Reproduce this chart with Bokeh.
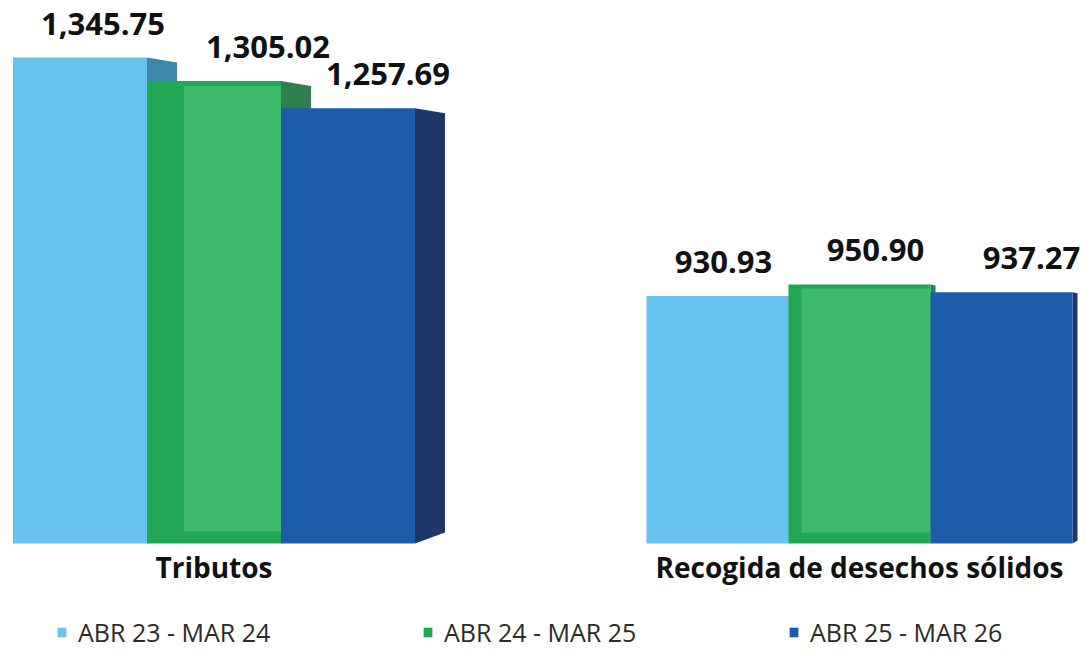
from bokeh.plotting import figure
from bokeh.models import Range1d, Legend, LegendItem, ColumnDataSource
from bokeh.core.properties import value
from bokeh.embed import file_html
from bokeh.resources import INLINE

# ---------------- data ----------------
categories = ["Tributos", "Recogida de desechos sólidos"]
series_names = ["ABR 23 - MAR 24", "ABR 24 - MAR 25", "ABR 25 - MAR 26"]
values_abr23_mar24 = [1345.75, 930.93]
values_abr24_mar25 = [1305.02, 950.90]
values_abr25_mar26 = [1257.69, 937.27]
series_values = [values_abr23_mar24, values_abr24_mar25, values_abr25_mar26]

# ---------------- styles / layout ----------------
front_colors = ["#68c4ef", "#3dba6b", "#1d5ca8"]
side_colors = ["#3f86ab", "#2e7f4f", "#1e3668"]
green_outer = "#22a854"
FONT = "Open Sans"

W, H = 1086, 649
BASE = 500.0          # value at which the bars start (truncated base as in original)
K = 0.5746            # px per value unit
BASE_PX = 543         # px from top of the figure to the bars' base
U = 140.0             # px per x unit

group_center = [1.0, 1.0 + (859 - 213.5) / U]
group_scale = [134 / U, 142 / U]
depth_px = [30, 5]
top_drop_px = [5, 1]
bot_rise_px = [11, 3]
# horizontal label offsets (px) per series, per group
label_dx_px = [[23, 6], [54, 16], [40, 30]]
label_gap_px = 34
bevel_left_px = [37, 13]
bevel_bottom_px = [12, 11]
bevel_top_px = [5, 4]

y_start = BASE - (H - BASE_PX) / K
y_end = BASE + BASE_PX / K
x_start = group_center[0] - 213.5 / U
x_end = x_start + W / U

p = figure(width=W, height=H, output_backend="svg", toolbar_location=None,
           x_range=Range1d(x_start, x_end), y_range=Range1d(y_start, y_end),
           x_axis_location=None, y_axis_location=None, min_border=0,
           background_fill_color="white", border_fill_color="white")
p.outline_line_color = None
p.xgrid.visible = False
p.ygrid.visible = False

front_renderers = []
for s, vals in enumerate(series_values):
    xs_c, widths, lefts, rights = [], [], [], []
    for g, v in enumerate(vals):
        w = group_scale[g]
        xc = group_center[g] + (s - 1) * w
        xs_c.append(xc)
        widths.append(w)
        lefts.append(xc - w / 2)
        rights.append(xc + w / 2)

    # side faces (pseudo 3D)
    side_xs, side_ys = [], []
    for g, v in enumerate(vals):
        xr = rights[g]
        d = depth_px[g] / U
        side_xs.append([xr, xr + d, xr + d, xr])
        side_ys.append([v, v - top_drop_px[g] / K, BASE + bot_rise_px[g] / K, BASE])
    p.patches(xs=side_xs, ys=side_ys, fill_color=side_colors[s], line_color=None)

    src = ColumnDataSource(dict(x=xs_c, top=vals, width=widths))
    if s == 1:
        r = p.vbar(x="x", top="top", bottom=BASE, width="width", source=src,
                   fill_color=green_outer, line_color=None)
        inner_l = [lefts[g] + bevel_left_px[g] / U for g in range(len(vals))]
        inner_b = [BASE + bevel_bottom_px[g] / K for g in range(len(vals))]
        inner_t = [vals[g] - bevel_top_px[g] / K for g in range(len(vals))]
        p.quad(left=inner_l, right=rights, bottom=inner_b, top=inner_t,
               fill_color=front_colors[s], line_color=None)
    else:
        r = p.vbar(x="x", top="top", bottom=BASE, width="width", source=src,
                   fill_color=front_colors[s], line_color=None)
    front_renderers.append(r)

    # value labels
    lab_x = [xs_c[g] + label_dx_px[s][g] / U for g in range(len(vals))]
    lab_y = [v + label_gap_px / K for v in vals]
    lab_txt = [f"{v:,.2f}" for v in vals]
    p.text(x=lab_x, y=lab_y, text=lab_txt, text_font=value(FONT),
           text_font_style="bold", text_font_size="31px", text_color="#111111",
           text_align="center", text_baseline="alphabetic")

# category labels
p.text(x=group_center, y=[BASE - 23 / K] * len(categories), text=categories,
       text_font=value(FONT), text_font_style="bold", text_font_size="28px",
       text_color="#111111", text_align="center", text_baseline="alphabetic")

# legend
items = [LegendItem(label=series_names[i], renderers=[front_renderers[i]]) for i in range(3)]
legend = Legend(items=items, orientation="horizontal", location=(56, 0),
                glyph_width=11, glyph_height=12, label_standoff=11,
                label_width=344, spacing=0, padding=0, margin=0,
                border_line_color=None, background_fill_alpha=0,
                label_text_font=FONT, label_text_font_size="25px",
                label_text_color="#2a2a2a")
p.add_layout(legend)

open("out.html", "w").write(file_html(p, INLINE))
